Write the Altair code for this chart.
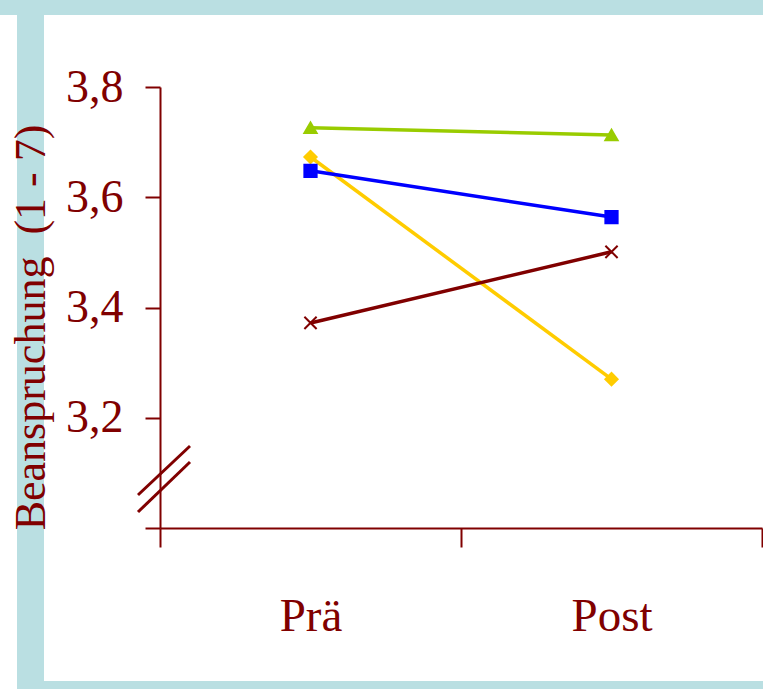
import altair as alt
import pandas as pd

# Messzeitpunkte und mittlere Beanspruchung je Gruppe
zeitpunkte = ["Prä", "Post"]
gruppen = ["Gruppe A", "Gruppe B", "Gruppe C", "Gruppe D"]
werte_prae = [3.673, 3.726, 3.648, 3.372]
werte_post = [3.270, 3.713, 3.564, 3.501]
y_ticks = [3.0, 3.2, 3.4, 3.6, 3.8]

farben = ["#ffcc00", "#99cc00", "#0000ff", "#800000"]
symbole = ["diamond", "triangle-up", "square", "M-1,-1L1,1M-1,1L1,-1"]
groessen = [150, 150, 130, 90]

ink = "#800000"
serif = "Liberation Serif"
rahmen = "#badfe2"

rows = []
for g, a, b in zip(gruppen, werte_prae, werte_post):
    rows.append({"gruppe": g, "zeitpunkt": zeitpunkte[0], "wert": a})
    rows.append({"gruppe": g, "zeitpunkt": zeitpunkte[1], "wert": b})
df = pd.DataFrame(rows)

x_enc = alt.X(
    "zeitpunkt:N",
    sort=zeitpunkte,
    scale=alt.Scale(type="band", domain=zeitpunkte, paddingInner=0, paddingOuter=0),
    axis=alt.Axis(
        title=None, tickBand="extent", tickSize=19, tickWidth=2, tickColor=ink,
        domainColor=ink, domainWidth=2, labelFont=serif, labelFontSize=47,
        labelColor=ink, labelAngle=0, labelPadding=83, labelBaseline="alphabetic",
        zindex=1,
    ),
)
y_enc = alt.Y(
    "wert:Q",
    scale=alt.Scale(domain=[3.0, 3.8], nice=False, zero=False),
    axis=alt.Axis(
        values=y_ticks, grid=False, tickSize=15, tickWidth=2, tickColor=ink,
        domainColor=ink, domainWidth=2, labelFont=serif, labelFontSize=46,
        labelColor=ink, labelPadding=22,
        labelExpr="datum.value < 3.1 ? '' : replace(format(datum.value, '.1f'), '.', ',')",
        title="Beanspruchung \u00a0(1 - 7)", titleFont=serif, titleFontSize=44,
        titleFontWeight="normal", titleColor=ink, titleAngle=270,
        titleAlign="center", titleBaseline="alphabetic", titleX=-116, titleY=240,
        zindex=1,
    ),
)
farbe = alt.Color("gruppe:N", scale=alt.Scale(domain=gruppen, range=farben), legend=None)

leer = alt.Data(values=[{}])

# weiße Flächen innerhalb des farbigen Rahmens
flaeche_links = alt.Chart(leer).mark_rect(color="white").encode(
    x=alt.value(-160), x2=alt.value(-143), y=alt.value(-72), y2=alt.value(602)
)
flaeche_innen = alt.Chart(leer).mark_rect(color="white").encode(
    x=alt.value(-116), x2=alt.value(603), y=alt.value(-72), y2=alt.value(594)
)

# Achsenbruch-Zeichen an der y-Achse
bruch1 = alt.Chart(leer).mark_rule(color=ink, strokeWidth=3).encode(
    x=alt.value(-22), x2=alt.value(30), y=alt.value(408), y2=alt.value(359)
)
bruch2 = alt.Chart(leer).mark_rule(color=ink, strokeWidth=3).encode(
    x=alt.value(-22), x2=alt.value(30), y=alt.value(425), y2=alt.value(375)
)

linien = alt.Chart(df).mark_line(strokeWidth=3.5).encode(
    x=x_enc, y=y_enc, color=farbe, detail="gruppe:N"
)
punkte = alt.Chart(df).mark_point(filled=True, opacity=1, strokeWidth=2).encode(
    x=x_enc,
    y=y_enc,
    color=farbe,
    stroke=alt.Stroke("gruppe:N", scale=alt.Scale(domain=gruppen, range=farben), legend=None),
    shape=alt.Shape("gruppe:N", scale=alt.Scale(domain=gruppen, range=symbole), legend=None),
    size=alt.Size("gruppe:N", scale=alt.Scale(domain=gruppen, range=groessen), legend=None),
)

chart = (
    alt.layer(flaeche_links, flaeche_innen, bruch1, bruch2, linien, punkte)
    .properties(
        width=602,
        height=441,
        padding={"left": 160, "top": 87, "right": 1, "bottom": 161},
        autosize=alt.AutoSizeParams(type="none"),
        background=rahmen,
    )
    .configure_view(strokeWidth=0)
)

chart.save("out.html", embed_options={"renderer": "svg", "actions": False})
